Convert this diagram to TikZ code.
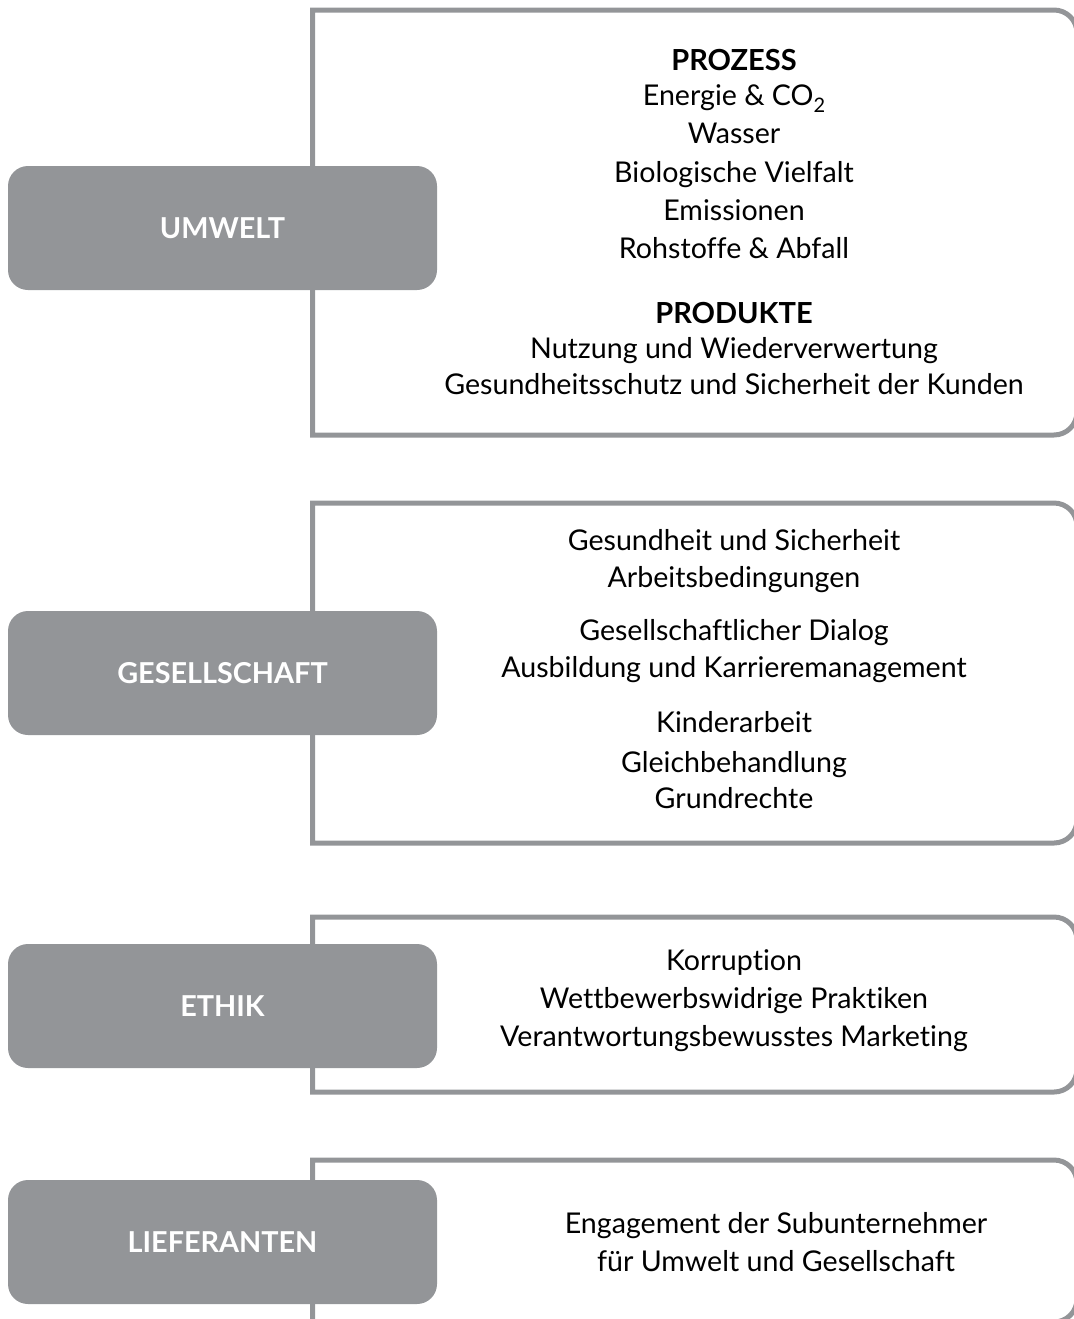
\documentclass[tikz,border=0pt]{standalone}
\usepackage{fontspec}
\setmainfont{Lato}[Ligatures = NoCommon]
\definecolor{kpigray}{HTML}{939598}

\begin{document}
\begin{tikzpicture}
        [
            x = 0.5pt, y = -0.5pt,
            frame/.style = {draw = kpigray, line width = 2.5pt},
            pillar/.style = {fill = kpigray, rounded corners = 10pt, inner sep = 0pt, minimum width = 214.5pt, minimum height = 62pt, text = white, font = \fontsize{14.4}{16}\selectfont\bfseries},
            item/.style = {anchor = base, inner sep = 0pt, font = \fontsize{14.3}{19}\selectfont},
            head/.style = {anchor = base, inner sep = 0pt, font = \fontsize{14.5}{19}\selectfont\bfseries}
        ]
        \useasboundingbox (0,0) rectangle (1074,1319);
        % open frames, cut at the right and bottom edge
        \begin{scope}
            \clip (0,0) rectangle (1074,1319);
            \foreach \ytop/\ybot in {10/435, 503/843, 917/1092, 1160/1322} {
                \draw[frame] (312.5,\ybot) -- (312.5,\ytop) -- (1054,\ytop)
                    .. controls (1066.7,\ytop) and (1077,{\ytop+10.3}) .. (1077,{\ytop+23})
                    -- (1077,{\ybot-23})
                    .. controls (1077,{\ybot-10.3}) and (1066.7,\ybot) .. (1054,\ybot) -- cycle;
            }
        \end{scope}
        % grey labels
        \node[pillar] (umwelt) at (222.5, 228) {UMWELT};
        \node[pillar] (gesellschaft) at (222.5, 673) {GESELLSCHAFT};
        \node[pillar] (ethik) at (222.5, 1006) {ETHIK};
        \node[pillar] (lieferanten) at (222.5, 1242) {LIEFERANTEN};
        % umwelt
        \def\xtext{734}
        \node[head] (prozess) at (\xtext, 70) {PROZESS};
        \node[item] (energie) at (\xtext, 105) {Energie \& CO\raisebox{-0.55ex}{\fontsize{10}{10}\selectfont 2}};
        \node[item] (wasser) at (\xtext, 143) {Wasser};
        \node[item] (vielfalt) at (\xtext, 182) {Biologische Vielfalt};
        \node[item] (emissionen) at (\xtext, 220) {Emissionen};
        \node[item] (rohstoffe) at (\xtext, 258) {Rohstoffe \& Abfall};
        \node[head] (produkte) at (\xtext, 323) {PRODUKTE};
        \node[item] (nutzung) at (\xtext, 358) {Nutzung und Wiederverwertung};
        \node[item] (kunden) at (\xtext, 394) {Gesundheitsschutz und Sicherheit der Kunden};
        % gesellschaft
        \node[item] (sicherheit) at (\xtext, 550) {Gesundheit und Sicherheit};
        \node[item] (arbeit) at (\xtext, 587) {Arbeitsbedingungen};
        \node[item] (dialog) at (\xtext, 640) {Gesellschaftlicher Dialog};
        \node[item] (karriere) at (\xtext, 677) {Ausbildung und Karrieremanagement};
        \node[item] (kinder) at (\xtext, 732) {Kinderarbeit};
        \node[item] (gleich) at (\xtext, 772) {Gleichbehandlung};
        \node[item] (grundrechte) at (\xtext, 808) {Grundrechte};
        % ethik
        \node[item] (korruption) at (\xtext, 970) {Korruption};
        \node[item] (wettbewerb) at (\xtext, 1008) {Wettbewerbswidrige Praktiken};
        \node[item] (marketing) at (\xtext, 1046) {Verantwortungsbewusstes Marketing};
        % lieferanten
        \def\xtext{776}
        \node[item] (engagement) at (\xtext, 1233) {Engagement der Subunternehmer};
        \node[item] (umgesell) at (\xtext, 1271) {für Umwelt und Gesellschaft};
    \end{tikzpicture}
\end{document}
